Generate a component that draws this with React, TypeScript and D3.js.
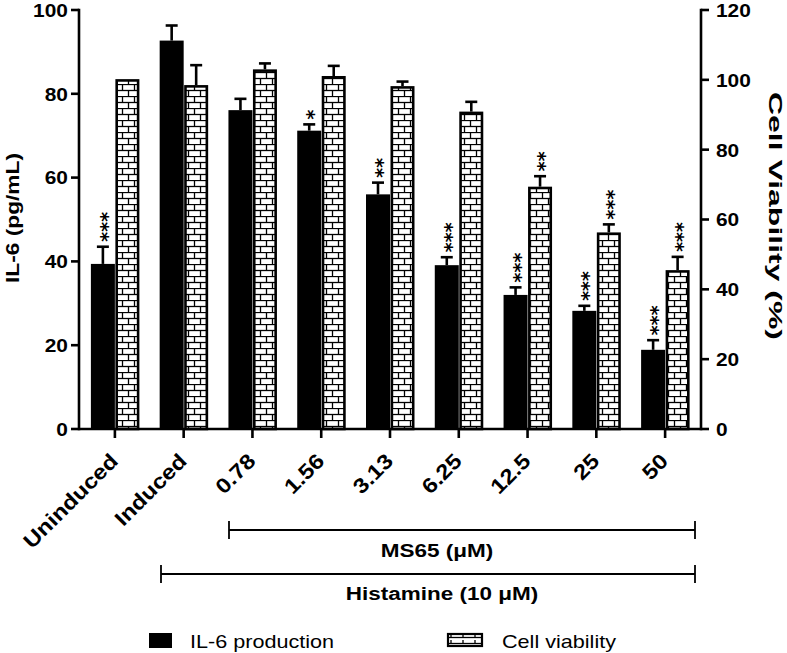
import React from "react";
import * as d3 from "d3";

const categories = ["Uninduced", "Induced", "0.78", "1.56", "3.13", "6.25", "12.5", "25", "50"];
const il6 = [39.4, 92.7, 76.1, 71.2, 56.0, 39.1, 32.0, 28.2, 18.9];
const il6Err = [4.1, 3.6, 2.7, 1.5, 2.8, 1.9, 1.8, 1.2, 2.3];
const viability = [100.2, 98.5, 103.0, 101.1, 98.2, 90.9, 69.4, 56.3, 45.5];
const viabilityErr = [0, 5.7, 1.7, 2.9, 1.3, 2.8, 3.0, 2.3, 3.8];
const il6Sig = ["***", "", "", "*", "**", "***", "***", "***", "***"];
const viabilitySig = ["", "", "", "", "", "", "**", "***", "***"];
const leftTicks = [0, 20, 40, 60, 80, 100];
const rightTicks = [0, 20, 40, 60, 80, 100, 120];

const W = 787;
const H = 653;
const FONT = "'Liberation Sans', Arial, Helvetica, sans-serif";
const SX = 1.2; // horizontal stretch of the reference font

export default function App() {
  const x = d3.scaleBand<string>().domain(categories).range([80.5, 699.5]).padding(0);
  const yL = d3.scaleLinear().domain([0, 100]).range([429, 10]);
  const yR = d3.scaleLinear().domain([0, 120]).range([429, 10]);
  const bw = 24;
  const capW = 12;
  const sw = 2.6;

  const center = (c: string) => (x(c) as number) + x.bandwidth() / 2;

  const stars = (s: string, cx: number, y: number) => (
    <text
      transform={`translate(${cx + 11},${y}) rotate(-90)`}
      fontSize={19}
      fontFamily="'DejaVu Sans', sans-serif"
      fontWeight="bold"
      textAnchor="start"
    >
      {s}
    </text>
  );

  return (
    <svg width={W} height={H} style={{ position: "absolute", left: 0, top: 0, background: "#fff" }} fontFamily={FONT}>
      <defs>
        <pattern id="brick" patternUnits="userSpaceOnUse" width={12} height={12}>
          <rect width={12} height={12} fill="#fff" />
          <line x1={0} y1={0.5} x2={12} y2={0.5} stroke="#000" strokeWidth={1.3} />
          <line x1={0} y1={6.5} x2={12} y2={6.5} stroke="#000" strokeWidth={1.3} />
          <line x1={2.5} y1={0} x2={2.5} y2={6.5} stroke="#000" strokeWidth={1.3} />
          <line x1={8.5} y1={6.5} x2={8.5} y2={12} stroke="#000" strokeWidth={1.3} />
        </pattern>
        <pattern id="brickLegend" patternUnits="userSpaceOnUse" width={12} height={6} x={447} y={634}>
          <rect width={12} height={6} fill="#fff" />
          <line x1={0} y1={3.5} x2={12} y2={3.5} stroke="#000" strokeWidth={1.3} />
          <line x1={4} y1={0} x2={4} y2={3.5} stroke="#000" strokeWidth={1.3} />
        </pattern>
      </defs>

      {/* IL-6 bars */}
      {categories.map((c, i) => {
        const cx = center(c);
        const top = yL(il6[i]);
        const errTop = yL(il6[i] + il6Err[i]);
        const bx = cx - bw;
        return (
          <g key={"il6" + c}>
            {il6Err[i] > 0 && (
              <g stroke="#000" strokeWidth={sw}>
                <line x1={bx + bw / 2} x2={bx + bw / 2} y1={top} y2={errTop} />
                <line x1={bx + bw / 2 - capW / 2} x2={bx + bw / 2 + capW / 2} y1={errTop} y2={errTop} />
              </g>
            )}
            <rect x={bx} y={top} width={bw} height={429 - top} fill="#000" />
            {il6Sig[i] && stars(il6Sig[i], bx + bw / 2, errTop - 5)}
          </g>
        );
      })}
      {/* viability bars */}
      {categories.map((c, i) => {
        const cx = center(c);
        const top = yR(viability[i]);
        const errTop = yR(viability[i] + viabilityErr[i]);
        const bx = cx + 0.5;
        return (
          <g key={"via" + c}>
            {viabilityErr[i] > 0 && (
              <g stroke="#000" strokeWidth={sw}>
                <line x1={bx + bw / 2} x2={bx + bw / 2} y1={top} y2={errTop} />
                <line x1={bx + bw / 2 - capW / 2} x2={bx + bw / 2 + capW / 2} y1={errTop} y2={errTop} />
              </g>
            )}
            <rect
              x={bx + sw / 2}
              y={top + sw / 2}
              width={bw - sw}
              height={429 - top - sw / 2}
              fill="url(#brick)"
              stroke="#000"
              strokeWidth={sw}
            />
            {viabilitySig[i] && stars(viabilitySig[i], bx + bw / 2, errTop - 5)}
          </g>
        );
      })}

      {/* left axis */}
      <line x1={79} x2={79} y1={8.7} y2={430.3} stroke="#000" strokeWidth={sw} />
      {leftTicks.map((t) => (
        <g key={"lt" + t}>
          <line x1={71} x2={79} y1={yL(t)} y2={yL(t)} stroke="#000" strokeWidth={sw} />
          <text
            transform={`translate(68,${yL(t)}) scale(1.1,1)`}
            dy="0.36em"
            textAnchor="end"
            fontSize={19}
            fontWeight="bold"
          >
            {t}
          </text>
        </g>
      ))}
      {/* right axis */}
      <line x1={701} x2={701} y1={8.7} y2={430.3} stroke="#000" strokeWidth={sw} />
      {rightTicks.map((t) => (
        <g key={"rt" + t}>
          <line x1={701} x2={709} y1={yR(t)} y2={yR(t)} stroke="#000" strokeWidth={sw} />
          <text
            transform={`translate(716,${yR(t)}) scale(1.1,1)`}
            dy="0.36em"
            textAnchor="start"
            fontSize={19}
            fontWeight="bold"
          >
            {t}
          </text>
        </g>
      ))}
      {/* x axis */}
      <line x1={79} x2={701} y1={429} y2={429} stroke="#000" strokeWidth={sw} />
      {categories.map((c) => (
        <g key={"xt" + c}>
          <line x1={center(c)} x2={center(c)} y1={429} y2={438} stroke="#000" strokeWidth={sw} />
          <text
            transform={`translate(${center(c) - 6},${452}) rotate(-45) scale(1.14,1)`}
            textAnchor="end"
            dy="0.7em"
            fontSize={21}
            fontWeight="bold"
          >
            {c}
          </text>
        </g>
      ))}

      {/* axis titles */}
      <text
        transform={`translate(19,218) rotate(-90)`}
        textAnchor="middle"
        fontSize={19}
        fontWeight="bold"
        textLength={130}
        lengthAdjust="spacingAndGlyphs"
      >
        IL-6 (pg/mL)
      </text>
      <text
        transform={`translate(769,216) rotate(90)`}
        textAnchor="middle"
        fontSize={19}
        fontWeight="bold"
        textLength={248}
        lengthAdjust="spacingAndGlyphs"
      >
        Cell Viability (%)
      </text>

      {/* brackets */}
      <g stroke="#000" strokeWidth={1.8}>
        <line x1={229} x2={695} y1={530} y2={530} />
        <line x1={229} x2={229} y1={521} y2={539} />
        <line x1={695} x2={695} y1={521} y2={539} />
        <line x1={161} x2={695} y1={574} y2={574} />
        <line x1={161} x2={161} y1={565} y2={583} />
        <line x1={695} x2={695} y1={565} y2={583} />
      </g>
      <text transform={`translate(437,557) scale(1.25,1)`} textAnchor="middle" fontSize={18} fontWeight="bold">
        MS65 (μM)
      </text>
      <text transform={`translate(442,600) scale(1.25,1)`} textAnchor="middle" fontSize={18} fontWeight="bold">
        Histamine (10 μM)
      </text>

      {/* legend */}
      <rect x={149} y={633} width={23} height={15} fill="#000" />
      <text transform={`translate(190,648) scale(${SX},1)`} fontSize={18}>
        IL-6 production
      </text>
      <rect x={448} y={634} width={34} height={12} fill="url(#brickLegend)" stroke="#000" strokeWidth={2.2} />
      <text transform={`translate(502,648) scale(${SX},1)`} fontSize={18}>
        Cell viability
      </text>
    </svg>
  );
}
